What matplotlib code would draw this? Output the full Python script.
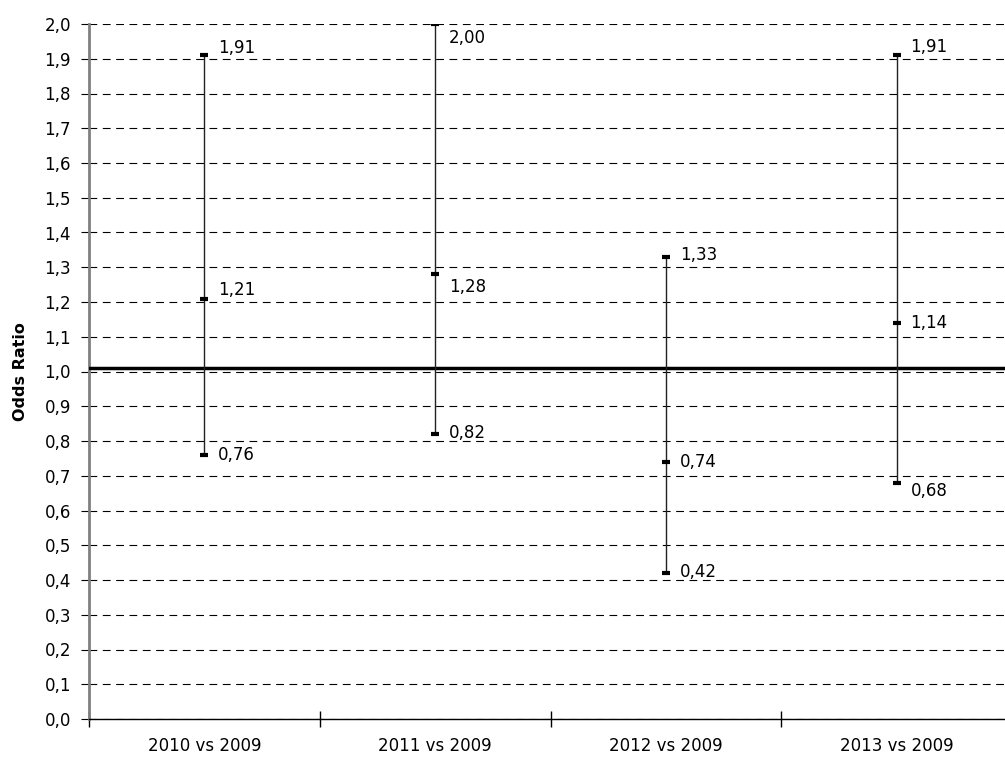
import matplotlib.pyplot as plt
import numpy as np

plt.rcParams['font.family'] = ['DejaVu Sans']

categories = ["2010 vs 2009", "2011 vs 2009", "2012 vs 2009", "2013 vs 2009"]
lower = [0.76, 0.82, 0.42, 0.68]
odds = [1.21, 1.28, 0.74, 1.14]
upper = [1.91, 2.00, 1.33, 1.91]

# vertical label offsets in points (lower, mid, upper), as placed in the original
label_dy = [(0, 6, 5), (1, -9, -10), (1, 0, 1), (-6, 0, 6)]

fig = plt.figure(figsize=(10.05, 7.58), dpi=100)
ax = fig.add_axes([89 / 1005, 1 - 719 / 758, 923 / 1005, 695 / 758])

x = np.arange(len(categories))

ax.set_ylim(0, 2.0)
ax.set_xlim(-0.5, 3.5)
ax.set_yticks(np.arange(0, 2.01, 0.1))
ax.set_yticklabels([f"{v:.1f}".replace(".", ",") for v in np.arange(0, 2.01, 0.1)])
ax.yaxis.grid(True, color="black", linestyle=(0, (7, 5)), linewidth=0.8)
ax.set_axisbelow(True)

# reference line
ax.axhline(1.01, color="black", linewidth=2.5, zorder=3)

ax.vlines(x, lower, upper, color="#222222", linewidth=1, zorder=4)
for vals in (lower, odds, upper):
    ax.plot(x, vals, linestyle="none", marker="_", markersize=6,
            markeredgewidth=3, color="black", zorder=5)

for i in range(len(categories)):
    for j, v in enumerate((lower[i], odds[i], upper[i])):
        ax.annotate(f"{v:.2f}".replace(".", ","), (x[i], v),
                    xytext=(10, label_dy[i][j]), textcoords="offset points",
                    ha="left", va="center", fontsize=12)

ax.set_xticks(np.arange(-0.5, 3.6, 1))
ax.set_xticklabels([])
ax.set_xticks(x, minor=True)
ax.set_xticklabels(categories, minor=True, fontsize=12)
ax.tick_params(axis="x", which="major", direction="inout", length=12, width=1)
ax.tick_params(axis="x", which="minor", length=0, pad=13)
ax.tick_params(axis="y", direction="out", length=6, labelsize=12, pad=7)

ax.spines["top"].set_visible(False)
ax.spines["right"].set_visible(False)
ax.spines["left"].set_color("#808080")
ax.spines["left"].set_linewidth(2)
ax.spines["bottom"].set_linewidth(1)

ax.set_ylabel("Odds Ratio", fontsize=11.5, fontweight="bold", labelpad=12)

fig.savefig("out.png", dpi=100)
